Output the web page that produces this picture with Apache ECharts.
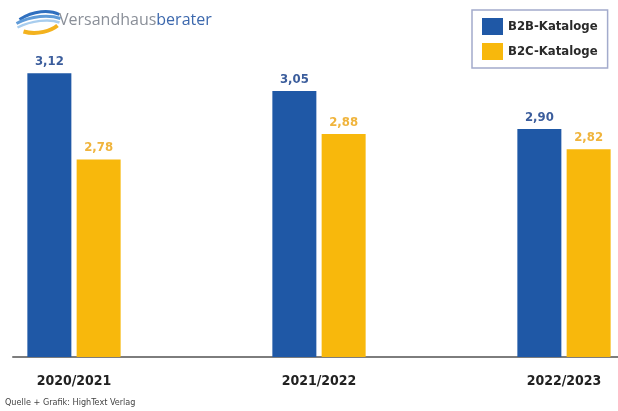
<!DOCTYPE html>
<html>
<head>
<meta charset="utf-8">
<script src="https://cdn.jsdelivr.net/npm/echarts@6/dist/echarts.min.js"></script>
<style>
  html, body { margin: 0; padding: 0; background: #fff; }
  #chart { width: 618px; height: 411px; }
</style>
</head>
<body>
<div id="chart"></div>
<script>
// Daten aus der Grafik
const categories = ["2020/2021", "2021/2022", "2022/2023"];
const b2b = [3.12, 3.05, 2.90];
const b2c = [2.78, 2.88, 2.82];
const seriesNames = ["B2B-Kataloge", "B2C-Kataloge"];

const blue = "#1f58a6";
const yellow = "#f8b80c";
const font = "DejaVu Sans Condensed";

// Komma als Dezimaltrenner
const fmt = p => p.value.toFixed(2).replace(".", ",");

const myChart = echarts.init(document.getElementById("chart"));

const options = {
  animation: false,
  backgroundColor: "#fff",
  textStyle: { fontFamily: font },
  legend: {
    orient: "vertical",
    left: 472,
    top: 10,
    padding: [8, 10, 8, 10],
    itemWidth: 21,
    itemHeight: 17,
    itemGap: 8,
    icon: "rect",
    borderColor: "#a3abcc",
    borderWidth: 1.5,
    data: seriesNames,
    textStyle: { fontFamily: font, fontWeight: "bold", fontSize: 13, color: "#2a2a2a" }
  },
  grid: [
    // Gruppen sitzen auf den Ticks (boundaryGap false)
    { left: 74, right: 54, top: 53, bottom: 54 },
    // nur für die Grundlinie
    { left: 13, right: 0, top: 53, bottom: 54 }
  ],
  xAxis: [
    {
      type: "category",
      gridIndex: 0,
      data: categories,
      boundaryGap: false,
      axisLine: { show: false },
      axisTick: { show: false },
      axisLabel: {
        margin: 17,
        fontFamily: font,
        fontWeight: "bold",
        fontSize: 14,
        color: "#222"
      }
    },
    {
      type: "value",
      gridIndex: 1,
      min: 0,
      max: 1,
      axisLine: { show: true, lineStyle: { color: "#7d7d7d", width: 2 } },
      axisTick: { show: false },
      axisLabel: { show: false },
      splitLine: { show: false }
    }
  ],
  yAxis: [
    { type: "value", gridIndex: 0, min: 2, max: 3.2, show: false },
    { type: "value", gridIndex: 1, min: 0, max: 1, show: false }
  ],
  series: [
    {
      name: seriesNames[0],
      type: "bar",
      data: b2b,
      barWidth: 44,
      barGap: "12%",
      itemStyle: { color: blue },
      label: {
        show: true,
        position: "top",
        distance: 5,
        formatter: fmt,
        fontFamily: font,
        fontWeight: "bold",
        fontSize: 13,
        color: "#3b5d9c"
      }
    },
    {
      name: seriesNames[1],
      type: "bar",
      data: b2c,
      barWidth: 44,
      barGap: "12%",
      itemStyle: { color: yellow },
      label: {
        show: true,
        position: "top",
        distance: 5,
        formatter: fmt,
        fontFamily: font,
        fontWeight: "bold",
        fontSize: 13,
        color: "#f0b43c"
      }
    }
  ],
  graphic: [
    // Logo-Schwung
    {
      type: "group",
      left: 14,
      top: 9,
      children: [
        { type: "bezierCurve", shape: { x1: 4, y1: 11, x2: 44, y2: 6, cpx1: 18, cpy1: 2, cpx2: 34, cpy2: 1 },
          style: { stroke: "#2f6fbf", lineWidth: 3, fill: null } },
        { type: "bezierCurve", shape: { x1: 1, y1: 15, x2: 45, y2: 10, cpx1: 16, cpy1: 7, cpx2: 34, cpy2: 6 },
          style: { stroke: "#5f9bd8", lineWidth: 3, fill: null } },
        { type: "bezierCurve", shape: { x1: 2, y1: 19, x2: 44, y2: 14, cpx1: 16, cpy1: 12, cpx2: 34, cpy2: 10 },
          style: { stroke: "#a8cdee", lineWidth: 2.5, fill: null } },
        { type: "bezierCurve", shape: { x1: 8, y1: 23, x2: 42, y2: 17, cpx1: 22, cpy1: 27, cpx2: 36, cpy2: 22 },
          style: { stroke: "#f3b21e", lineWidth: 4, fill: null } }
      ]
    },
    {
      type: "text",
      left: 59,
      top: 12,
      style: {
        text: "{a|Versandhaus}{b|berater}",
        rich: {
          a: { fontFamily: "Open Sans", fontSize: 16, fill: "#8a8f98" },
          b: { fontFamily: "Open Sans", fontSize: 16, fill: "#3c68ad" }
        }
      }
    },
    {
      type: "text",
      left: 5,
      top: 398,
      style: {
        text: "Quelle + Grafik: HighText Verlag",
        fontFamily: font,
        fontSize: 9,
        fill: "#444"
      }
    }
  ]
};

myChart.setOption(options);
</script>
</body>
</html>
